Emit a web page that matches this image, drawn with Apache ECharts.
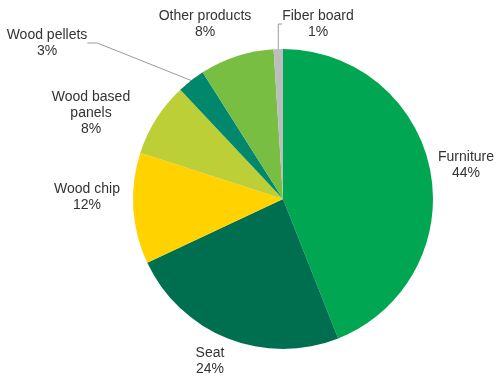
<!DOCTYPE html>
<html>
<head>
<meta charset="utf-8">
<script src="https://cdn.jsdelivr.net/npm/echarts@6/dist/echarts.min.js"></script>
<style>
  html, body { margin: 0; padding: 0; background: #fff; }
  #chart { width: 502px; height: 377px; }
</style>
</head>
<body>
<div id="chart"></div>
<script>
// 产品结构饼图
const categories = ["Furniture", "Seat", "Wood chip", "Wood based\npanels", "Wood pellets", "Other products", "Fiber board"];
const shares = [44, 24, 12, 8, 3, 8, 1];
const colors = ["#00a651", "#006f4f", "#ffd200", "#bccf37", "#00876c", "#78be43", "#bdbdbd"];

// 标签中心位置 (px)
const labelPos = [[466, 165], [210, 361], [87, 197], [91, 113], [47, 43], [205, 24], [318, 24]];
const withLine = [false, false, false, false, true, false, true];

const chart = echarts.init(document.getElementById("chart"));

chart.setOption({
  animation: false,
  series: [{
    type: "pie",
    center: [283, 199],
    radius: [0, 150],
    startAngle: 90,
    clockwise: true,
    data: categories.map((name, i) => ({
      name: name,
      value: shares[i],
      itemStyle: { color: colors[i] },
      labelLine: { show: withLine[i], lineStyle: { color: "#9a9a9a", width: 1 } }
    })),
    label: {
      show: true,
      position: "outside",
      formatter: "{b}\n{c}%",
      fontFamily: "Liberation Sans, Arial, sans-serif",
      fontSize: 14,
      lineHeight: 16,
      color: "#333333",
      align: "center",
      overflow: "none"
    },
    labelLine: { length: 10, length2: 10, smooth: false },
    labelLayout: (p) => ({
      x: labelPos[p.dataIndex][0],
      y: labelPos[p.dataIndex][1],
      align: "center",
      verticalAlign: "middle"
    }),
    emphasis: { disabled: true }
  }]
});
</script>
</body>
</html>
